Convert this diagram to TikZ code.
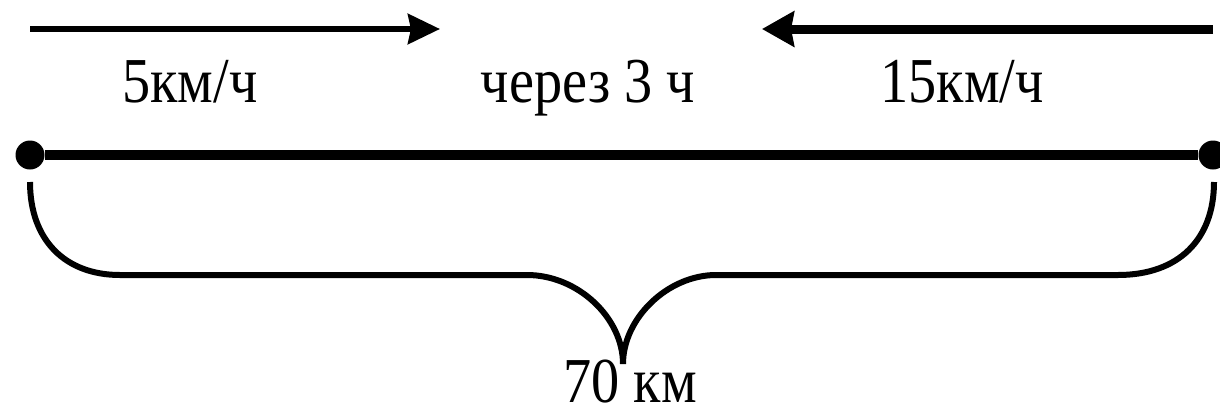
\documentclass[tikz,border=0pt]{standalone}
\usepackage{fontspec}
\setmainfont{Liberation Serif}[FakeStretch=0.88]
\usetikzlibrary{arrows.meta}
\tikzset{
  slowarrow/.style={line width=6pt, -{Stealth[length=32pt,width=30pt,inset=3pt]}},
  fastarrow/.style={line width=9pt, -{Stealth[length=32pt,width=35pt,inset=3pt]}},
  road/.style={line width=10pt},
  endpt/.style={circle, fill=black, inner sep=0pt, minimum size=29pt},
  brace/.style={line width=6pt},
  lbl/.style={anchor=base, inner sep=0pt, font=\fontsize{64}{70}\selectfont},
}
\begin{document}
\begin{tikzpicture}[x=1pt,y=-1pt]
\useasboundingbox (0,0) rectangle (1220,416);
\coordinate (slow0) at (30,29);
\coordinate (slow1) at (440,29);
\coordinate (fast0) at (1213,29);
\coordinate (fast1) at (762,29);
\draw[slowarrow] (slow0) -- (slow1);
\draw[fastarrow] (fast0) -- (fast1);
\node[lbl] (vslow) at (190,102) {5км/ч};
\node[lbl] (time) at (588,102) {через 3 ч};
\node[lbl] (vfast) at (962,102) {15км/ч};
\node[endpt] (A) at (30,155) {};
\node[endpt] (B) at (1213,155) {};
\draw[road] (A) -- (B);
\coordinate (bl) at (30,182);
\coordinate (br) at (1214,182);
\coordinate (tip) at (623,364);
\draw[brace] (bl) .. controls (30,240) and (65,275) .. (120,275) -- (527,275)
  .. controls (578,275) and (623,318) .. (tip)
  .. controls (623,318) and (668,275) .. (716,275) -- (1118,275)
  .. controls (1178,275) and (1214,240) .. (br);
\node[lbl] (dist) at (630,402) {70 км};
\end{tikzpicture}
\end{document}
